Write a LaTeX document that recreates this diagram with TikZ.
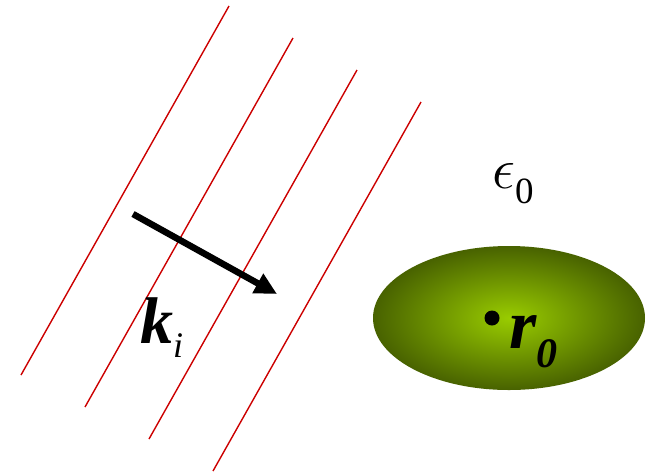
\RequirePackage{fix-cm}
\documentclass[tikz,border=0pt]{standalone}
\usepackage{fontspec}
\setmainfont{Liberation Serif}
\usetikzlibrary{arrows.meta,positioning,shapes.geometric}
\definecolor{wavered}{RGB}{204,0,0}
\definecolor{graininner}{RGB}{153,204,0}
\definecolor{grainouter}{RGB}{72,98,0}
\tikzset{
  wave/.style={draw=wavered,line width=1.4pt},
  karr/.style={-{Triangle[length=22pt,width=21pt]},line width=6.5pt},
  grain/.style={ellipse,minimum width=272pt,minimum height=144pt,inner sep=0pt,
    inner color=graininner,outer color=grainouter},
  dotnode/.style={circle,fill=black,minimum size=15pt,inner sep=0pt},
  lbl/.style={inner sep=0pt,anchor=base west}
}

\begin{document}
\begin{tikzpicture}[x=1pt,y=-1pt]
  \useasboundingbox (0,0) rectangle (647,472);

  % wave fronts
  \foreach \i in {0,...,3}
    \draw[wave] (229+64*\i,6+32*\i) -- ++(-208,369);

  % incident wave vector
  \coordinate (kstart) at (133,214);
  \coordinate (kend) at (277,294);
  \draw[karr] (kstart) -- (kend);
  \node[lbl] (klbl) at (140,343) {\fontsize{66}{66}\selectfont\textbf{\textit{k}}\raisebox{-14pt}{\fontsize{36}{36}\selectfont\textit{i}}};

  % background medium
  \node[lbl] (eps) at (492,188) {\fontsize{58}{58}\selectfont$\epsilon$\raisebox{-15pt}{\fontsize{37}{37}\selectfont 0}};

  % particle
  \node[grain] (part) at (509,318) {};
  \node[dotnode] (r0) at (492,318) {};
  \node[lbl] (r0lbl) at (509,348) {\fontsize{70}{70}\selectfont\textbf{\textit{r}}\raisebox{-19pt}{\fontsize{42}{42}\selectfont\textbf{\textit{0}}}};
\end{tikzpicture}
\end{document}
